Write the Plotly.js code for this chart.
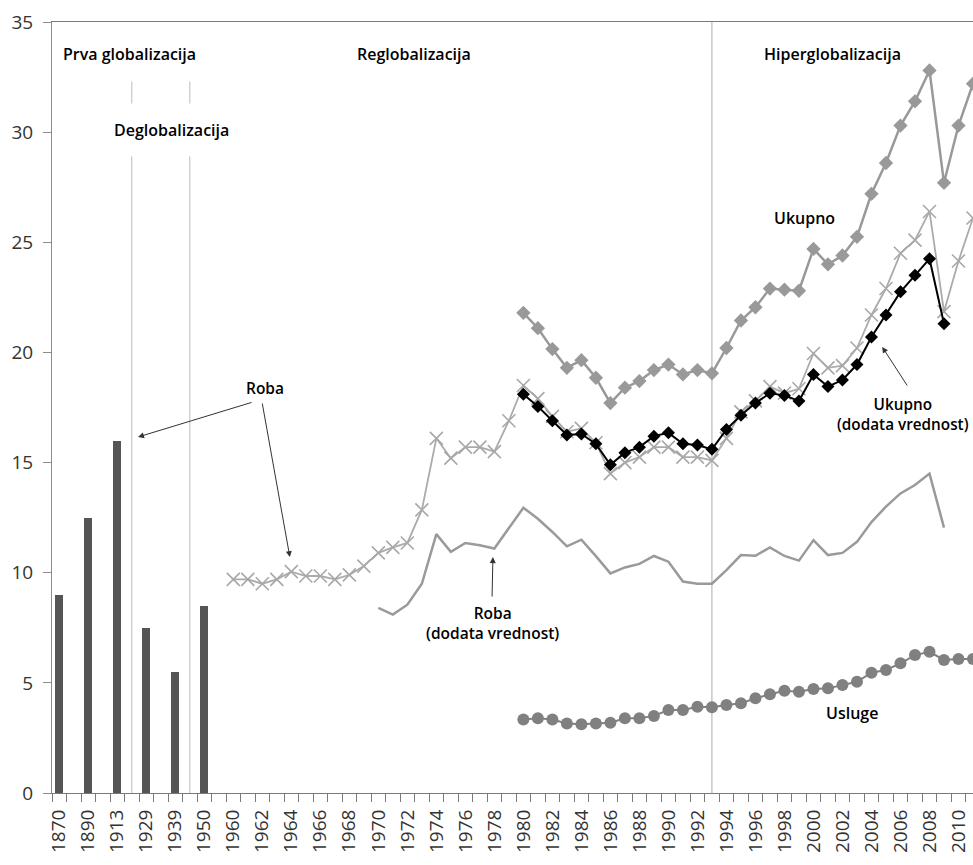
<!DOCTYPE html>
<html><head><meta charset="utf-8">
<script src="https://cdn.plot.ly/plotly-3.0.1.min.js"></script>
<style>html,body{margin:0;padding:0;background:#fff;overflow:hidden}</style>
</head><body><div id="chart" style="width:973px;height:865px"></div>
<script>
// Axis slots (category order; '' = empty spacer slot)
const axisSlots = ['1870','','1890','','1913','','1929','','1939','','1950','',
  '1960','1961','1962','1963','1964','1965','1966','1967','1968','1969',
  '1970','1971','1972','1973','1974','1975','1976','1977','1978','1979',
  '1980','1981','1982','1983','1984','1985','1986','1987','1988','1989',
  '1990','1991','1992','1993','1994','1995','1996','1997','1998','1999',
  '2000','2001','2002','2003','2004','2005','2006','2007','2008','2009',
  '2010','2011'];

// Roba – early benchmark years (bars)
const barYears = ['1870','1890','1913','1929','1939','1950'];
const barValues = [9.0, 12.5, 16.0, 7.5, 5.5, 8.5];

// Roba (gross goods), 1960–2011
const goodsYears = ['1960','1961','1962','1963','1964','1965','1966','1967','1968','1969',
  '1970','1971','1972','1973','1974','1975','1976','1977','1978','1979',
  '1980','1981','1982','1983','1984','1985','1986','1987','1988','1989',
  '1990','1991','1992','1993','1994','1995','1996','1997','1998','1999',
  '2000','2001','2002','2003','2004','2005','2006','2007','2008','2009','2010','2011'];
const goodsValues = [9.7, 9.7, 9.5, 9.7, 10.05, 9.85, 9.85, 9.7, 9.9, 10.3,
  10.9, 11.15, 11.35, 12.85, 16.1, 15.2, 15.7, 15.7, 15.5, 16.9,
  18.5, 17.9, 17.1, 16.4, 16.55, 15.9, 14.5, 15.0, 15.25, 15.7,
  15.7, 15.25, 15.25, 15.1, 16.1, 17.3, 17.8, 18.45, 18.15, 18.35,
  19.95, 19.3, 19.4, 20.2, 21.7, 22.9, 24.5, 25.1, 26.4, 21.85, 24.15, 26.1];

// Ukupno (total), 1980–2011
const totalYears = ['1980','1981','1982','1983','1984','1985','1986','1987','1988','1989',
  '1990','1991','1992','1993','1994','1995','1996','1997','1998','1999',
  '2000','2001','2002','2003','2004','2005','2006','2007','2008','2009','2010','2011'];
const totalValues = [21.8, 21.1, 20.15, 19.3, 19.65, 18.85, 17.7, 18.4, 18.7, 19.2,
  19.45, 19.0, 19.2, 19.05, 20.2, 21.45, 22.05, 22.9, 22.85, 22.8,
  24.7, 24.0, 24.4, 25.25, 27.2, 28.6, 30.3, 31.4, 32.8, 27.7, 30.3, 32.2];

// Ukupno (dodata vrednost), 1980–2009
const totalVAYears = ['1980','1981','1982','1983','1984','1985','1986','1987','1988','1989',
  '1990','1991','1992','1993','1994','1995','1996','1997','1998','1999',
  '2000','2001','2002','2003','2004','2005','2006','2007','2008','2009'];
const totalVAValues = [18.1, 17.55, 16.9, 16.25, 16.3, 15.85, 14.9, 15.45, 15.7, 16.2,
  16.35, 15.85, 15.8, 15.6, 16.5, 17.15, 17.7, 18.15, 18.05, 17.8,
  19.0, 18.45, 18.75, 19.45, 20.7, 21.7, 22.75, 23.5, 24.25, 21.3];

// Roba (dodata vrednost), 1970–2009
const goodsVAYears = ['1970','1971','1972','1973','1974','1975','1976','1977','1978','1979',
  '1980','1981','1982','1983','1984','1985','1986','1987','1988','1989',
  '1990','1991','1992','1993','1994','1995','1996','1997','1998','1999',
  '2000','2001','2002','2003','2004','2005','2006','2007','2008','2009'];
const goodsVAValues = [8.4, 8.1, 8.55, 9.5, 11.75, 10.95, 11.35, 11.25, 11.1, 12.0,
  12.95, 12.45, 11.85, 11.2, 11.5, 10.75, 9.97, 10.24, 10.4, 10.76,
  10.5, 9.6, 9.5, 9.5, 10.12, 10.8, 10.77, 11.15, 10.76, 10.55,
  11.48, 10.8, 10.9, 11.4, 12.3, 13.0, 13.6, 13.98, 14.5, 12.05];

// Usluge (services), 1980–2011
const servYears = totalYears;
const servValues = [3.34, 3.39, 3.34, 3.16, 3.12, 3.16, 3.19, 3.39, 3.39, 3.5,
  3.77, 3.77, 3.92, 3.89, 4.0, 4.07, 4.3, 4.48, 4.64, 4.6,
  4.72, 4.75, 4.9, 5.05, 5.46, 5.58, 5.89, 6.26, 6.41, 6.04, 6.08, 6.08];

// Period boundary year for hyperglobalisation
const hyperStart = '1993';

const pos = y => axisSlots.indexOf(String(y));
const P = arr => arr.map(pos);

const tickvals = [], ticktext = [];
axisSlots.forEach((s, i) => { if (i % 2 === 0) { tickvals.push(i); ticktext.push(s); } });

const FONT = 'Open Sans, Noto Sans, sans-serif';

const traces = [
  { type: 'bar', x: P(barYears), y: barValues, width: 0.53,
    marker: { color: '#555555' }, hoverinfo: 'y' },
  { type: 'scatter', mode: 'lines', x: P(goodsVAYears), y: goodsVAValues,
    line: { color: '#9a9a9a', width: 2.5 } },
  { type: 'scatter', mode: 'lines+markers', x: P(servYears), y: servValues,
    line: { color: '#808080', width: 2 },
    marker: { symbol: 'circle', size: 12, color: '#808080' }, cliponaxis: false },
  { type: 'scatter', mode: 'lines+markers', x: P(goodsYears), y: goodsValues,
    line: { color: '#ababab', width: 1.8 },
    marker: { symbol: 'x-thin-open', size: 13, color: '#a8a8a8', line: { width: 1.6, color: '#a8a8a8' } },
    cliponaxis: false },
  { type: 'scatter', mode: 'lines+markers', x: P(totalYears), y: totalValues,
    line: { color: '#999999', width: 2.5 },
    marker: { symbol: 'diamond', size: 11, color: '#999999' }, cliponaxis: false },
  { type: 'scatter', mode: 'lines+markers', x: P(totalVAYears), y: totalVAValues,
    line: { color: '#000000', width: 2 },
    marker: { symbol: 'diamond', size: 10, color: '#000000' } }
];

const lineStyle = { color: '#bdbdbd', width: 1 };
const shapes = [
  { type: 'line', xref: 'x', yref: 'y', x0: 5, x1: 5, y0: 0, y1: 28.9, line: lineStyle, layer: 'below' },
  { type: 'line', xref: 'x', yref: 'y', x0: 5, x1: 5, y0: 31.3, y1: 32.3, line: lineStyle, layer: 'below' },
  { type: 'line', xref: 'x', yref: 'y', x0: 9, x1: 9, y0: 0, y1: 28.9, line: lineStyle, layer: 'below' },
  { type: 'line', xref: 'x', yref: 'y', x0: 9, x1: 9, y0: 31.3, y1: 32.3, line: lineStyle, layer: 'below' },
  { type: 'line', xref: 'x', yref: 'y', x0: pos(hyperStart), x1: pos(hyperStart), y0: 0, y1: 35,
    line: { color: '#aaaaaa', width: 1 }, layer: 'below' }
];

const tf = (size) => ({ family: FONT, size, color: '#000', weight: 600 });
const txt = (text, x, y, size) => ({ text, x, y, xref: 'x', yref: 'y', showarrow: false,
  font: tf(size), xanchor: 'center', yanchor: 'middle' });
const arrow = (x, y, ax, ay) => ({ text: '', x, y, ax, ay, xref: 'x', yref: 'y', axref: 'x', ayref: 'y',
  showarrow: true, arrowhead: 2, arrowsize: 1.2, arrowwidth: 1, arrowcolor: '#333', standoff: 0, startstandoff: 0 });

const annotations = [
  txt('Prva globalizacija', 4.84, 33.55, 16),
  txt('Deglobalizacija', 7.71, 30.1, 16),
  txt('Reglobalizacija', 24.47, 33.55, 16),
  txt('Hiperglobalizacija', 53.3, 33.55, 16),
  txt('Ukupno', 51.36, 26.1, 16),
  txt('Ukupno<br>(dodata vrednost)', 58.2, 17.2, 15.3),
  txt('Roba', 14.19, 18.38, 15.5),
  txt('Roba<br>(dodata vrednost)', 29.9, 7.72, 15.5),
  txt('Usluge', 54.67, 3.63, 16),
  arrow(5.43, 16.16, 13.36, 17.75),
  arrow(15.9, 10.71, 13.98, 17.75),
  arrow(29.9, 10.71, 29.84, 8.85),
  arrow(56.74, 20.25, 58.53, 18.43)
];

const layout = {
  width: 973, height: 865,
  margin: { l: 52, r: 0, t: 22, b: 72, pad: 0 },
  paper_bgcolor: '#fff', plot_bgcolor: '#fff',
  showlegend: false,
  bargap: 0,
  xaxis: {
    range: [-0.5, 63], tickmode: 'array', tickvals, ticktext, tickangle: -90,
    ticks: 'outside', ticklen: 8, tickcolor: 'rgba(0,0,0,0)',
    showline: true, linecolor: '#7a7a7a', linewidth: 1, mirror: true,
    showgrid: false, zeroline: false,
    tickfont: { family: FONT, size: 19, color: '#333' },
    minor: { tickmode: 'linear', tick0: -0.5, dtick: 1, ticks: 'outside', ticklen: 8, tickcolor: '#7a7a7a', showgrid: false }
  },
  yaxis: {
    range: [0, 35], dtick: 5, tick0: 0, ticks: 'outside', ticklen: 8, tickcolor: '#8c8c8c',
    showline: true, linecolor: '#8c8c8c', linewidth: 1,
    showgrid: false, zeroline: false, ticklabelstandoff: 6,
    tickfont: { family: FONT, size: 19, color: '#333' }
  },
  shapes, annotations
};

Plotly.newPlot('chart', traces, layout, { displayModeBar: false, staticPlot: true });
</script></body></html>
